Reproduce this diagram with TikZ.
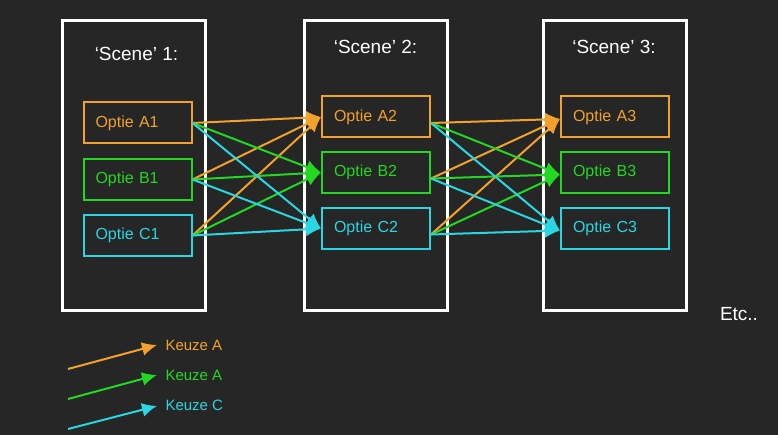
\documentclass[tikz,border=0pt]{standalone}
\usepackage{fontspec}
\setmainfont{Liberation Sans}
\usetikzlibrary{arrows.meta}
\definecolor{achter}{HTML}{262626}
\definecolor{keuzeA}{HTML}{F2A22C}
\definecolor{keuzeB}{HTML}{22D822}
\definecolor{keuzeC}{HTML}{2AD6E2}
\tikzset{
  scene/.style={draw=white, line width=3pt, minimum width=143pt, minimum height=290pt},
  titel/.style={text=white, font=\fontsize{19}{22}\selectfont},
  optie/.style={draw=#1, text=#1, line width=2pt, minimum height=41pt, text width=84pt,
    inner xsep=12pt, align=left, font=\fontsize{16}{18}\selectfont},
  keuze/.style={draw=#1, line width=2pt, -{Latex[length=15pt,width=14pt]}},
  legenda/.style={text=#1, anchor=west, font=\fontsize{15}{17}\selectfont},
}
\begin{document}
\begin{tikzpicture}[x=1pt, y=-1pt]
  \fill [achter] (0,0) rectangle (778,435);
  \useasboundingbox (0,0) rectangle (778,435);

  % scenes
  \node [scene] (s1) at (134, 165.5){};
  \node [scene] (s2) at (375.5, 165.5){};
  \node [scene] (s3) at (615, 165.5){};
  \node [titel] (t1) at (136.5, 54){‘Scene’ 1:};
  \node [titel] (t2) at (375.5, 47){‘Scene’ 2:};
  \node [titel] (t3) at (614, 47){‘Scene’ 3:};

  % opties
  \node [optie=keuzeA] (A1) at (137.5, 123){Optie A1};
  \node [optie=keuzeB] (B1) at (137.5, 179.5){Optie B1};
  \node [optie=keuzeC] (C1) at (137.5, 235.5){Optie C1};
  \node [optie=keuzeA] (A2) at (376, 117){Optie A2};
  \node [optie=keuzeB] (B2) at (376, 172.5){Optie B2};
  \node [optie=keuzeC] (C2) at (376, 228.5){Optie C2};
  \node [optie=keuzeA] (A3) at (615, 117){Optie A3};
  \node [optie=keuzeB] (B3) at (615, 172.5){Optie B3};
  \node [optie=keuzeC] (C3) at (615, 228.5){Optie C3};

  % keuzes scene 1 -> 2
  \draw [keuze=keuzeA] (A1.east) -- (A2.west);
  \draw [keuze=keuzeA] (B1.east) -- (A2.west);
  \draw [keuze=keuzeA] (C1.east) -- (A2.west);
  \draw [keuze=keuzeB] (A1.east) -- (B2.west);
  \draw [keuze=keuzeB] (B1.east) -- (B2.west);
  \draw [keuze=keuzeB] (C1.east) -- (B2.west);
  \draw [keuze=keuzeC] (A1.east) -- (C2.west);
  \draw [keuze=keuzeC] (B1.east) -- (C2.west);
  \draw [keuze=keuzeC] (C1.east) -- (C2.west);

  % keuzes scene 2 -> 3
  \draw [keuze=keuzeA] ([yshift=-6pt]A2.east) -- ([yshift=-2pt]A3.west);
  \draw [keuze=keuzeA] ([yshift=-6pt]B2.east) -- ([yshift=-2pt]A3.west);
  \draw [keuze=keuzeA] ([yshift=-6pt]C2.east) -- ([yshift=-2pt]A3.west);
  \draw [keuze=keuzeB] ([yshift=-6pt]A2.east) -- ([yshift=-2pt]B3.west);
  \draw [keuze=keuzeB] ([yshift=-6pt]B2.east) -- ([yshift=-2pt]B3.west);
  \draw [keuze=keuzeB] ([yshift=-6pt]C2.east) -- ([yshift=-2pt]B3.west);
  \draw [keuze=keuzeC] ([yshift=-6pt]A2.east) -- ([yshift=-2pt]C3.west);
  \draw [keuze=keuzeC] ([yshift=-6pt]B2.east) -- ([yshift=-2pt]C3.west);
  \draw [keuze=keuzeC] ([yshift=-6pt]C2.east) -- ([yshift=-2pt]C3.west);

  \node [titel] (etc) at (739, 314){Etc..};

  % legenda
  \node [legenda=keuzeA] (kA) at (162, 345){Keuze A};
  \node [legenda=keuzeB] (kB) at (162, 375){Keuze A};
  \node [legenda=keuzeC] (kC) at (162, 405){Keuze C};
  \coordinate (kAstart) at (68, 369);
  \coordinate (kBstart) at (68, 399);
  \coordinate (kCstart) at (68, 429);
  \coordinate (kAeind) at (157, 345);
  \coordinate (kBeind) at (157, 375);
  \coordinate (kCeind) at (157, 406);
  \draw [keuze=keuzeA] (kAstart) -- (kAeind);
  \draw [keuze=keuzeB] (kBstart) -- (kBeind);
  \draw [keuze=keuzeC] (kCstart) -- (kCeind);
\end{tikzpicture}
\end{document}
